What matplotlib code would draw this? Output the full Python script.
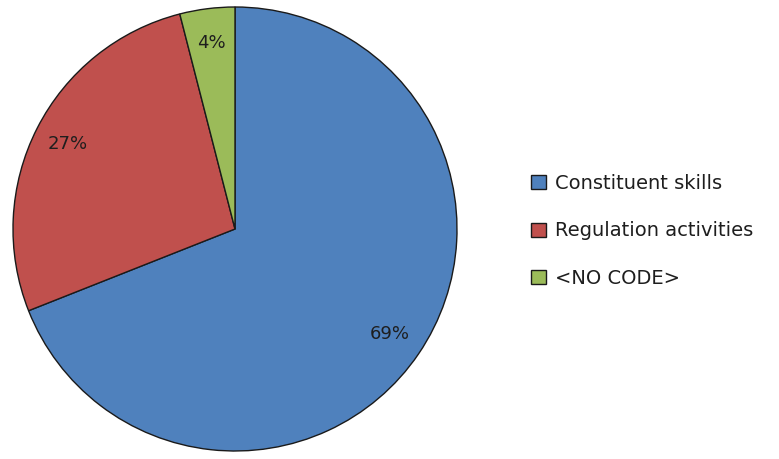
import matplotlib
matplotlib.use("Agg")
import matplotlib.pyplot as plt

categories = ["Constituent skills", "Regulation activities", "<NO CODE>"]
values = [69, 27, 4]
colors = ["#4F81BD", "#C0504D", "#9BBB59"]

plt.rcParams['font.family'] = ['DejaVu Sans']

fig = plt.figure(figsize=(7.79, 4.59), dpi=100)
W, H = 779, 459
cx, cy, r = 235, 229, 222
ax = fig.add_axes([(cx - r) / W, (H - cy - r) / H, 2 * r / W, 2 * r / H])
wedges, texts, autotexts = ax.pie(
    values, colors=colors, startangle=90, counterclock=False,
    autopct=lambda p: f"{p:.0f}%", pctdistance=0.845,
    wedgeprops=dict(edgecolor="#1a1a1a", linewidth=1.0),
    textprops=dict(fontsize=13, color="#1e1e1e"))
ax.set_aspect('auto')
ax.set_xlim(-1.0, 1.0)
ax.set_ylim(-1.0, 1.0)

leg = fig.legend(wedges, categories, loc="center left",
                 bbox_to_anchor=(531 / W, 1 - 231 / H), frameon=False,
                 fontsize=14, handlelength=0.78, handleheight=0.72,
                 handletextpad=0.45, labelspacing=1.47, borderpad=0,
                 borderaxespad=0)
for t in leg.get_texts():
    t.set_color("#1e1e1e")

fig.savefig("out.png", dpi=100)
